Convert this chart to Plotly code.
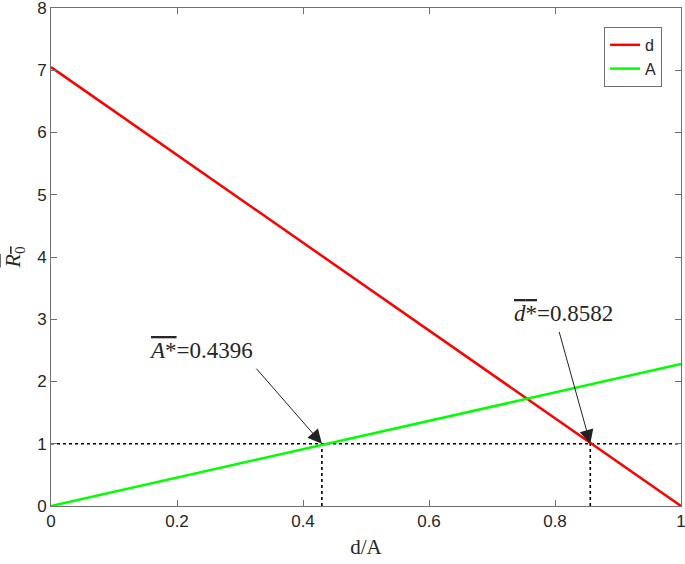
import plotly.graph_objects as go

# Data
x_vals = [0, 1]
d_vals = [7.05, 0.0]
A_vals = [0.0, 2.28]
threshold_y = [1, 1]
A_star_drawn = 0.43
d_star_drawn = 0.856
A_star_label = "0.4396"
d_star_label = "0.8582"
x_ticks = [0, 0.2, 0.4, 0.6, 0.8, 1]
x_tick_text = ["0", "0.2", "0.4", "0.6", "0.8", "1"]
y_ticks = [0, 1, 2, 3, 4, 5, 6, 7, 8]

OL = '<span style="text-decoration:overline">{}</span>'

fig = go.Figure()
fig.add_trace(go.Scatter(x=x_vals, y=threshold_y, mode="lines",
                         line=dict(color="black", width=1.6, dash="dot"),
                         showlegend=False, hoverinfo="skip"))
fig.add_trace(go.Scatter(x=[A_star_drawn, A_star_drawn], y=[0, 1], mode="lines",
                         line=dict(color="black", width=1.6, dash="dot"),
                         showlegend=False, hoverinfo="skip"))
fig.add_trace(go.Scatter(x=[d_star_drawn, d_star_drawn], y=[0, 1], mode="lines",
                         line=dict(color="black", width=1.6, dash="dot"),
                         showlegend=False, hoverinfo="skip"))
fig.add_trace(go.Scatter(x=x_vals, y=d_vals, mode="lines", name="d",
                         line=dict(color="#ff0000", width=2.5)))
fig.add_trace(go.Scatter(x=x_vals, y=A_vals, mode="lines", name="A",
                         line=dict(color="#00ff00", width=2.5)))

ann_font = dict(family="Liberation Serif, DejaVu Serif, serif", size=23, color="#262626")

# arrows
fig.add_annotation(x=A_star_drawn, y=1, ax=0.324, ay=2.23, xref="x", yref="y",
                   axref="x", ayref="y", text="", showarrow=True, arrowhead=2,
                   arrowsize=2.8, arrowwidth=1, arrowcolor="#222222", standoff=0)
fig.add_annotation(x=d_star_drawn, y=1, ax=0.806, ay=2.82, xref="x", yref="y",
                   axref="x", ayref="y", text="", showarrow=True, arrowhead=2,
                   arrowsize=2.8, arrowwidth=1, arrowcolor="#222222", standoff=0)
# labels
fig.add_annotation(x=0.238, y=2.5, xref="x", yref="y", showarrow=False,
                   text=OL.format("<i>A</i>*") + "=" + A_star_label,
                   font=ann_font)
fig.add_annotation(x=0.813, y=3.1, xref="x", yref="y", showarrow=False,
                   text=OL.format("<i>d</i>*") + "=" + d_star_label,
                   font=ann_font)

# y axis label
fig.add_annotation(x=-0.058, y=0.5, xref="paper", yref="paper", showarrow=False,
                   xanchor="center",
                   text=OL.format("<i>R</i><sub>0</sub>"), textangle=-90,
                   font=dict(family="Liberation Serif, DejaVu Serif, serif", size=22, color="#262626"))

axis_common = dict(showgrid=False, zeroline=False, showline=True, linecolor="#707070",
                   linewidth=1, mirror="ticks", ticks="inside", ticklen=6,
                   tickcolor="#707070", ticklabeloverflow="allow", automargin=False,
                   tickfont=dict(family="Liberation Sans, Arial, sans-serif", size=17, color="#262626"))

fig.update_xaxes(range=[0, 1], tickvals=x_ticks, ticktext=x_tick_text,
                 title=dict(text="d/A", font=dict(family="Liberation Serif, serif", size=21, color="#262626"),
                            standoff=8),
                 **axis_common)
fig.update_yaxes(range=[0, 8], tickvals=y_ticks, **axis_common)

fig.update_layout(
    width=685, height=564,
    margin=dict(l=51, r=4, t=8, b=58, autoexpand=False),
    paper_bgcolor="white", plot_bgcolor="white",
    showlegend=True,
    legend=dict(x=0.97, y=0.962, xanchor="right", yanchor="top",
                bgcolor="white", bordercolor="#707070", borderwidth=1,
                font=dict(family="Liberation Sans, Arial, sans-serif", size=16, color="#262626"),
                tracegroupgap=0, itemwidth=30),
)

fig.write_html("out.html", config={"displayModeBar": False},
               post_script="document.body.style.margin='0px';document.body.style.overflow='hidden';")
